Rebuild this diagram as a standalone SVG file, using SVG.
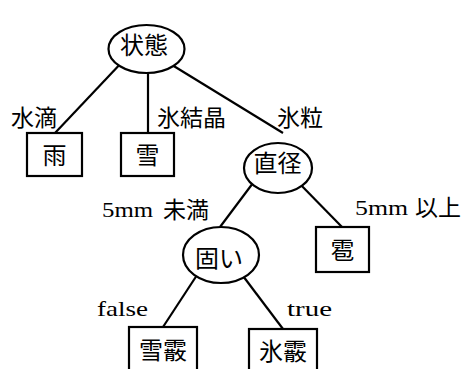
<svg xmlns="http://www.w3.org/2000/svg" width="465" height="369" viewBox="0 0 465 369">
<style>
.edge{stroke:#000;stroke-width:2.2;fill:none}
.node{stroke:#000;stroke-width:2.2;fill:#fff}
.cjk{font-family:"Noto Sans CJK JP","Noto Sans CJK SC",sans-serif;font-size:24px;fill:#000}
.lbl{font-family:"Noto Sans CJK JP","Noto Sans CJK SC",sans-serif;font-size:23px;fill:#000}
.ser{font-family:"Liberation Serif",serif;font-size:22px;fill:#000}
</style>
<rect width="465" height="369" fill="#fff"/>
<g id="connectors">
<line class="edge" x1="124" y1="60" x2="55" y2="133"/>
<line class="edge" x1="148" y1="60" x2="148" y2="133"/>
<line class="edge" x1="146" y1="49" x2="283" y2="133"/>
<line class="edge" x1="256" y1="179" x2="220" y2="227"/>
<line class="edge" x1="296" y1="180" x2="342" y2="227"/>
<line class="edge" x1="199" y1="272" x2="163" y2="327"/>
<line class="edge" x1="240" y1="272" x2="283" y2="329"/>
</g>
<g id="edge-labels">
<text class="lbl" x="11" y="126">水滴</text>
<text class="lbl" x="157" y="126">氷結晶</text>
<text class="lbl" x="277" y="126">氷粒</text>
<text class="ser" x="102" y="217" textLength="51" lengthAdjust="spacingAndGlyphs">5mm</text>
<text class="lbl" x="163" y="218">未満</text>
<text class="ser" x="355" y="215" textLength="53" lengthAdjust="spacingAndGlyphs">5mm</text>
<text class="lbl" x="415" y="216">以上</text>
<text class="ser" x="97" y="316" textLength="51" lengthAdjust="spacingAndGlyphs">false</text>
<text class="ser" x="287" y="316" textLength="45" lengthAdjust="spacingAndGlyphs">true</text>
</g>
<g id="n-jotai"><ellipse class="node" cx="146.5" cy="49" rx="38" ry="24"/><text class="cjk" x="144" y="54" text-anchor="middle">状態</text></g>
<g id="n-ame"><rect class="node" x="27" y="133" width="55" height="43"/><text class="cjk" x="54.5" y="164" text-anchor="middle">雨</text></g>
<g id="n-yuki"><rect class="node" x="121" y="133" width="53" height="43"/><text class="cjk" x="147.5" y="164" text-anchor="middle">雪</text></g>
<g id="n-chokkei"><ellipse class="node" cx="278" cy="168" rx="34" ry="25"/><text class="cjk" x="277.5" y="172" text-anchor="middle">直径</text></g>
<g id="n-hyou"><rect class="node" x="316" y="227" width="53" height="45"/><text class="cjk" x="342.5" y="259" text-anchor="middle">雹</text></g>
<g id="n-katai"><ellipse class="node" cx="221" cy="255" rx="38" ry="28"/><text class="cjk" x="219" y="267" text-anchor="middle">固い</text></g>
<g id="n-yukiarare"><rect class="node" x="129" y="327" width="68" height="55"/><text class="cjk" x="163" y="359" text-anchor="middle">雪霰</text></g>
<g id="n-koriarare"><rect class="node" x="249" y="329" width="68" height="55"/><text class="cjk" x="283" y="360" text-anchor="middle">氷霰</text></g>
</svg>
